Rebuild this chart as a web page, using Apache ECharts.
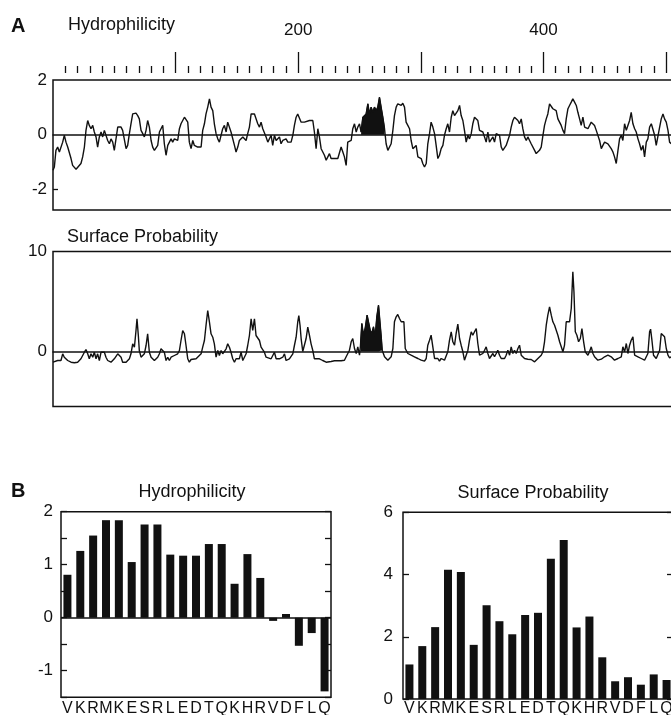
<!DOCTYPE html>
<html>
<head>
<meta charset="utf-8">
<script src="https://cdn.jsdelivr.net/npm/echarts@6/dist/echarts.min.js"></script>
<style>
  html, body { margin: 0; padding: 0; background: #fff; }
  #chart { width: 671px; height: 715px; }
</style>
</head>
<body>
<div id="chart"></div>
<script>
// residue number, value
const hydroTrace = [
  [0,-1.30],[1.1,-1.18],[2.4,-0.57],[3.8,-0.45],[5.2,-0.63],[6.5,-0.69],[7.9,-0.27],[9.2,-0.02],[10.6,-0.27],[12.0,-0.45],
  [13.3,-0.51],[14.7,-0.87],[16.0,-1.12],[18.8,-1.26],[20.1,-1.24],[22.8,-1.05],[24.2,-0.81],[25.6,-0.45],[26.9,0.16],[28.3,0.52],
  [29.6,0.34],[31.0,0.22],[32.4,0.34],[33.7,0.10],[35.1,-0.08],[36.4,-0.45],[37.8,-0.08],[39.2,0.10],[40.5,-0.08],[41.9,0.16],
  [43.2,0.22],[44.6,-0.21],[46.0,-0.33],[47.3,-0.15],[48.7,-0.27],[50.0,-0.57],[51.4,-0.63],[52.8,0.28],[54.1,0.22],[55.5,0.28],
  [56.8,0.16],[59.6,-0.51],[60.9,-0.39],[62.3,0.04],[63.6,0.40],[65.0,0.76],[66.4,0.70],[67.7,0.79],[69.1,0.70],[70.4,0.58],
  [71.8,0.16],[73.2,0.04],[74.5,-0.08],[75.9,0.16],[77.2,0.52],[78.6,0.28],[80.0,-0.21],[81.3,-0.45],[82.7,-0.57],[84.0,-0.51],
  [85.4,-0.39],[86.8,0.10],[88.1,0.22],[89.5,0.34],[90.8,-0.33],[92.2,-0.75],[93.6,-0.39],[94.9,-0.33],[96.3,-0.15],[97.6,-0.27],
  [99.0,-0.15],[100.4,-0.21],[101.7,-0.21],[103.1,0.22],[104.4,0.40],[105.8,0.46],[107.2,0.64],[108.5,0.70],[109.9,0.46],[111.2,-0.27],
  [112.6,-0.51],[114.0,-0.21],[115.3,-0.39],[118.0,-0.45],[120.8,-0.45],[122.1,0.16],[123.5,0.40],[124.8,0.76],[126.2,1.01],[127.6,1.31],
  [128.9,1.01],[130.3,0.88],[131.6,0.40],[133.0,0.04],[134.4,-0.15],[135.7,-0.27],[137.1,-0.33],[138.4,0.22],[139.8,0.34],[141.2,0.10],
  [142.5,0.46],[143.9,0.40],[145.2,0.10],[146.6,0.04],[148.0,-0.39],[149.3,-0.63],[150.7,-0.45],[152.0,-0.21],[153.4,-0.15],[154.8,-0.08],
  [156.1,-0.15],[157.5,-0.21],[158.8,0.04],[160.2,0.28],[161.6,0.76],[162.9,0.82],[164.3,0.76],[165.6,0.76],[167.0,0.40],[168.4,0.28],
  [169.7,0.46],[171.1,0.22],[172.4,0.16],[173.8,-0.08],[175.2,-0.27],[176.5,-0.21],[177.9,-0.02],[179.2,-0.39],[180.6,-0.02],[182.0,-0.21],
  [183.3,-0.27],[184.7,-0.08],[186.0,-0.33],[187.4,-0.21],[188.8,-0.27],[190.1,-0.15],[191.5,-0.27],[192.8,-0.21],[194.2,-0.27],[195.6,-0.02],
  [196.9,0.34],[198.3,0.64],[199.6,0.76],[201.0,0.82],[202.4,0.46],[203.7,0.40],[205.1,0.46],[206.4,0.52],[209.2,0.52],[211.9,0.52],
  [213.2,0.10],[214.6,-0.51],[216.0,0.22],[217.3,-0.08],[218.7,-0.51],[220.0,-0.51],[221.4,-0.75],[222.8,-0.93],[224.1,-0.93],[225.5,-0.69],
  [226.8,-0.87],[229.6,-0.87],[232.3,-0.87],[233.6,-0.81],[235.0,-0.45],[236.4,-0.63],[237.7,-0.81],[239.1,-1.12],[240.4,-0.27],[241.8,-0.21],
  [243.2,-0.21],[244.5,0.22],[245.9,0.40],[247.3,0.10],[248.6,0.28],[250.0,0.40],[251.3,0.10],[252.7,0.64],[254.0,0.64],[255.4,0.76],
  [256.8,1.13],[258.1,0.76],[259.5,1.01],[260.8,0.82],[262.2,1.01],[263.6,0.88],[264.9,1.01],[266.3,1.37],[267.6,1.01],[269.0,0.64],
  [270.4,0.22],[271.7,-0.33],[273.1,-0.57],[274.4,-0.57],[275.8,-0.33],[277.2,0.16],[278.5,0.70],[279.9,1.01],[281.2,1.13],[282.6,1.07],
  [284.0,1.07],[285.3,1.15],[286.7,1.01],[288.0,0.46],[289.4,0.34],[290.8,0.22],[292.1,-0.21],[293.5,-0.51],[294.8,-0.45],[296.2,-0.39],
  [297.6,-0.81],[298.9,-0.87],[300.3,-0.87],[301.6,-1.05],[303.0,-1.18],[304.4,-1.05],[305.7,-0.33],[307.1,0.04],[308.4,0.46],[309.8,0.28],
  [311.2,0.04],[312.5,-0.39],[313.9,-0.87],[315.2,-0.75],[316.6,-0.51],[318.0,-0.39],[319.3,-0.02],[320.7,0.22],[322.0,0.40],[323.4,0.10],
  [324.8,0.64],[326.1,0.88],[327.5,0.70],[328.8,0.70],[330.2,0.88],[331.6,1.07],[332.9,0.70],[334.3,0.52],[335.6,0.16],[337.0,-0.27],
  [338.4,-0.02],[339.7,-0.15],[341.1,0.04],[342.4,0.40],[343.8,0.64],[345.2,0.64],[346.5,0.52],[347.9,0.16],[349.2,0.10],[350.6,0.10],
  [352.0,-0.08],[353.3,-0.27],[354.7,0.10],[356.0,-0.27],[357.4,-0.33],[358.8,-0.08],[360.1,-0.27],[361.5,0.04],[362.8,0.10],[364.2,-0.02],
  [365.6,-0.45],[366.9,-0.57],[368.3,-0.51],[369.6,-0.39],[371.0,-0.33],[372.4,-0.02],[373.7,0.28],[375.1,0.52],[376.4,0.64],[377.8,0.70],
  [379.2,0.52],[380.5,0.40],[381.9,0.58],[383.2,0.22],[384.6,-0.08],[386.0,-0.21],[387.3,-0.08],[388.7,-0.21],[390.0,-0.33],[392.8,-0.57],
  [394.1,-0.69],[395.5,-0.63],[396.8,-0.57],[398.2,-0.45],[399.6,-0.02],[400.9,0.34],[402.3,0.58],[403.6,0.76],[405.0,1.13],[406.4,1.07],
  [407.7,0.95],[409.1,0.95],[410.4,0.88],[411.8,0.58],[413.2,0.52],[414.5,0.34],[415.9,0.16],[417.2,0.04],[418.6,0.58],[420.0,0.95],
  [421.3,1.07],[422.7,1.19],[424.0,1.31],[425.4,1.19],[426.8,1.07],[428.1,0.82],[429.5,0.58],[430.8,0.34],[432.2,0.64],[433.6,0.28],
  [434.9,0.22],[436.3,0.22],[437.6,0.28],[439.0,0.46],[440.4,0.40],[441.7,0.34],[443.1,0.16],[444.4,0.22],[445.8,-0.21],[447.2,-0.51],
  [448.5,-0.39],[449.9,-0.27],[451.2,-0.27],[452.6,-0.33],[454.0,-0.39],[455.3,-0.51],[456.7,-0.63],[458.0,-0.81],[459.4,-1.05],[460.8,-0.57],
  [462.1,-0.15],[463.5,-0.02],[464.8,-0.21],[466.2,0.40],[467.6,0.16],[468.9,0.34],[470.3,0.52],[471.6,0.82],[473.0,0.40],[474.4,0.22],
  [475.7,0.10],[477.1,-0.15],[478.4,-0.33],[479.8,-0.57],[481.2,-0.39],[482.5,-0.81],[483.9,-0.27],[485.2,-0.15],[486.6,0.28],[488.0,0.40],
  [489.3,0.34],[490.7,-0.02],[492.0,-0.39],[493.4,-0.45],[494.8,0.28],[496.1,0.58],[497.5,0.76],[498.8,0.58],[500.2,0.46],[501.6,0.16],
  [502.9,-0.27],[504.3,-0.33]
];

const surfTrace = [
  [0,-1.07],[1.1,-0.90],[3.8,-0.90],[6.5,-0.90],[7.9,-0.23],[9.2,-0.57],[12.0,-0.90],[14.7,-1.07],[17.4,-1.13],[20.1,-1.07],
  [22.8,-0.73],[25.6,-0.07],[26.9,0.20],[28.3,-0.23],[29.6,-0.73],[31.0,-0.23],[32.4,-0.57],[33.7,-0.07],[35.1,-0.73],[36.4,-0.23],
  [37.8,-0.90],[39.2,-0.07],[40.5,-0.23],[41.9,-0.07],[43.2,-0.57],[44.6,-0.90],[47.3,-1.07],[50.0,-0.73],[52.8,-0.23],[54.1,-0.07],
  [55.5,-0.57],[56.8,-1.07],[59.6,-1.07],[62.3,-0.73],[63.6,-0.23],[65.0,0.77],[66.4,0.43],[67.7,2.10],[68.5,3.27],[69.6,1.60],
  [70.4,0.10],[71.8,-0.57],[73.2,-0.73],[74.5,-0.23],[75.9,0.60],[77.2,1.77],[78.6,-0.07],[80.0,-0.57],[82.7,-0.90],[85.4,-0.57],
  [86.8,-0.23],[88.1,0.27],[89.5,0.43],[90.8,-0.07],[92.2,-0.90],[93.6,-0.57],[94.9,-0.90],[96.3,-0.57],[97.6,-0.73],[99.0,-0.40],
  [100.4,-0.57],[101.7,-0.23],[103.1,0.10],[104.4,1.10],[105.8,2.10],[107.2,1.77],[108.5,0.60],[109.9,-0.73],[111.2,-1.07],[112.6,-0.80],
  [114.0,-0.90],[116.7,-0.73],[120.8,-0.23],[122.1,0.43],[123.5,1.10],[124.8,2.60],[126.2,4.10],[127.6,2.93],[128.9,1.77],[130.3,1.43],
  [131.6,0.77],[133.0,-0.57],[134.4,0.10],[135.7,-0.40],[137.1,0.10],[138.4,-0.23],[139.8,-0.07],[141.2,0.27],[142.5,0.77],[143.9,0.43],
  [145.2,-0.07],[146.6,-0.73],[148.0,-1.07],[149.3,-0.73],[150.7,-0.90],[152.0,-0.73],[153.4,-0.07],[154.8,-0.90],[156.1,-0.57],[157.5,-0.23],
  [158.8,0.60],[160.2,1.60],[161.6,3.27],[162.9,2.10],[164.3,3.27],[165.6,1.60],[167.0,1.43],[168.4,1.10],[169.7,0.43],[171.1,0.27],
  [172.4,-0.07],[173.8,-0.57],[175.2,-0.73],[177.9,-0.73],[179.2,-0.57],[180.6,-0.07],[182.0,-0.73],[184.7,-0.73],[187.4,-0.57],[188.8,-0.23],
  [190.1,-0.90],[192.8,-0.73],[195.6,-0.23],[196.9,0.60],[198.3,1.43],[199.6,2.93],[200.5,3.60],[201.5,2.60],[202.4,1.27],[203.7,0],
  [205.1,0],[206.4,1.27],[207.8,2.43],[209.2,1.60],[210.5,0.77],[211.9,0.10],[213.2,-0.73],[214.6,-0.57],[217.3,-0.73],[220.0,-0.90],
  [222.8,-1.07],[226.8,-1.00],[229.6,-0.93],[235.0,-0.93],[237.7,-0.87],[239.1,-0.53],[241.8,0.13],[243.2,0.97],[244.5,1.30],[245.9,0.30],
  [247.3,-0.20],[248.6,0.47],[250.0,-0.37],[250.8,0.63],[251.9,2.80],[253.2,1.63],[254.6,2.30],[256.2,3.63],[257.3,2.97],[258.7,2.13],
  [260.0,1.80],[261.4,2.47],[262.8,1.47],[264.1,3.47],[265.5,4.63],[266.9,2.63],[267.7,1.47],[268.5,0.13],[270.4,-0.53],[273.1,-0.87],
  [275.8,-0.53],[277.2,0.30],[278.5,2.97],[279.9,3.47],[281.2,3.70],[282.6,3.30],[284.0,2.97],[286.2,2.97],[287.3,0.30],[289.4,-0.20],
  [292.1,-0.37],[294.8,-0.53],[297.6,-0.70],[300.3,-0.87],[303.0,-0.97],[304.4,-0.70],[305.7,0.63],[307.1,1.13],[308.4,1.63],[309.8,0.47],
  [311.2,-0.70],[312.5,-0.87],[313.9,-0.70],[315.2,-0.97],[316.6,-0.70],[319.3,-0.87],[322.0,-0.03],[323.4,1.13],[324.8,1.97],[326.1,0.97],
  [327.5,0.63],[328.8,1.80],[330.2,2.73],[331.6,1.30],[332.9,0.63],[334.3,-0.03],[335.6,-0.87],[337.0,-0.70],[338.4,0.13],[339.7,1.13],
  [341.1,1.97],[342.4,1.63],[343.8,1.97],[345.2,2.30],[346.5,0.80],[347.9,-0.37],[349.2,-0.20],[350.6,-0.20],[352.0,0.13],[353.3,0.47],
  [354.7,-0.20],[356.0,-0.70],[357.4,-0.53],[358.8,-0.20],[360.1,-0.53],[361.5,-0.20],[362.8,0.13],[364.2,-0.37],[365.6,-0.70],[366.9,-0.87],
  [368.3,-0.70],[369.6,-0.37],[371.0,0.13],[372.4,-0.37],[373.7,0.47],[375.1,-0.20],[376.4,0.13],[377.8,-0.20],[379.2,0.30],[380.5,0.63],
  [381.9,-0.37],[383.2,-0.53],[384.6,-0.70],[387.3,-0.77],[390.0,-0.80],[391.4,-0.97],[392.8,-1.03],[395.5,-0.70],[398.2,-0.37],[399.6,-0.03],
  [400.9,0.97],[402.3,2.63],[403.6,3.63],[405.0,4.47],[406.4,3.63],[407.7,2.97],[409.1,2.63],[410.4,2.80],[411.8,1.63],[413.2,0.97],
  [414.5,1.13],[415.9,-0.03],[417.2,0.63],[418.6,2.97],[420.0,3.13],[421.3,2.97],[422.7,4.30],[424.0,7.97],[424.9,5.97],[426.0,1.97],
  [427.3,1.63],[428.7,0.97],[430.1,1.30],[431.4,2.30],[432.8,0.97],[434.1,-0.03],[436.3,-0.37],[437.6,-0.03],[439.0,0.47],[440.4,-0.20],
  [441.7,-0.53],[444.4,-0.87],[447.2,-0.77],[449.9,-0.53],[452.6,-0.37],[455.3,-0.53],[458.0,-0.87],[460.8,-0.70],[463.5,-0.53],[464.8,0.47],
  [466.2,-0.03],[467.6,0.80],[468.9,-0.20],[470.3,0.63],[471.6,1.13],[473.0,1.47],[474.4,-0.37],[477.1,-0.53],[479.8,-0.70],[482.5,-0.87],
  [485.2,-0.20],[486.6,1.97],[487.4,2.23],[488.5,1.13],[489.8,-0.37],[492.0,-0.70],[494.8,0.13],[496.1,1.80],[497.5,1.97],[498.8,1.47],
  [500.2,0.30],[501.6,-0.37],[502.9,-0.63],[504.3,-0.53]
];

// peptide shaded black in panel A
const peptideRange = [250.5, 271];

// panel B: the peptide residue by residue
const residues = ['V','K','R','M','K','E','S','R','L','E','D','T','Q','K','H','R','V','D','F','L','Q'];
const hydroBars = [0.81, 1.26, 1.55, 1.84, 1.84, 1.05, 1.76, 1.76, 1.19, 1.17, 1.17, 1.39, 1.39, 0.64, 1.20, 0.75, -0.06, 0.07, -0.53, -0.29, -1.39];
const surfBars = [1.11, 1.70, 2.31, 4.15, 4.08, 1.74, 3.01, 2.50, 2.08, 2.70, 2.77, 4.51, 5.11, 2.30, 2.65, 1.34, 0.57, 0.70, 0.46, 0.79, 0.61];

const rulerMajor = [100, 200, 300, 400, 500];
const rulerLabels = [200, 400];
const rulerMinor = [];
for (let r = 10; r <= 510; r += 10) if (r % 100) rulerMinor.push(r);

const ink = '#111';
const font = '"Liberation Sans", Arial, Helvetica, sans-serif';
const resMax = 522;

const inPeptide = p => p[0] >= peptideRange[0] && p[0] <= peptideRange[1] && p[1] >= 0;

const frame = { show: true, borderColor: ink, borderWidth: 1.5, backgroundColor: 'transparent' };

function box(left, top, width, height, framed) {
  return Object.assign({ left: left, top: top, width: width, height: height, outerBoundsMode: 'none', containLabel: false },
    framed ? frame : {});
}

function traceAxis(grid) {
  return {
    gridIndex: grid, type: 'value', min: 0, max: resMax,
    axisLine: { show: true, onZero: true, lineStyle: { color: ink, width: 1.5 } },
    axisTick: { show: false }, axisLabel: { show: false }, splitLine: { show: false }
  };
}

function barAxis(grid, margin) {
  return {
    gridIndex: grid, type: 'category', data: residues,
    axisLine: { show: false }, axisTick: { show: false }, splitLine: { show: false },
    axisLabel: { interval: 0, margin: margin, fontSize: 16, color: ink, fontFamily: font }
  };
}

function sideAxis(grid, pos, min, max, interval, labels, margin) {
  return {
    gridIndex: grid, type: 'value', position: pos, min: min, max: max, interval: interval,
    axisLine: { show: false }, splitLine: { show: false },
    axisTick: { show: true, inside: true, length: 6, lineStyle: { color: ink, width: 1.3 } },
    axisLabel: labels
      ? { customValues: labels, margin: margin, fontSize: 17, color: ink, fontFamily: font }
      : { show: false }
  };
}

function traceSeries(axis, data, fill) {
  return {
    type: 'line', xAxisIndex: axis, yAxisIndex: axis, data: data,
    showSymbol: false, symbol: 'none', silent: true,
    lineStyle: { color: ink, width: fill ? 1 : 1.4 },
    areaStyle: fill ? { color: ink, opacity: 1, origin: 'auto' } : undefined,
    z: fill ? 2 : 3
  };
}

const zeroLine = {
  silent: true, symbol: 'none', label: { show: false },
  lineStyle: { color: ink, width: 1.5, type: 'solid' },
  data: [{ yAxis: 0 }]
};

const option = {
  animation: false,
  textStyle: { fontFamily: font, color: ink },
  grid: [
    box(53, 63, 640, 10, false),
    box(53, 63, 640, 10, false),
    box(53, 80, 640, 130, true),
    box(53, 251.5, 640, 155, true),
    box(61, 511.7, 270, 185.5, true),
    box(403, 512.3, 270, 186.7, true)
  ],
  xAxis: [
    {
      gridIndex: 0, type: 'value', position: 'top', min: 0, max: resMax,
      axisLine: { show: false }, splitLine: { show: false },
      axisTick: { customValues: rulerMajor, length: 21, lineStyle: { color: ink, width: 1.3 } },
      axisLabel: { customValues: rulerLabels, margin: 24, fontSize: 17, color: ink, fontFamily: font }
    },
    {
      gridIndex: 1, type: 'value', position: 'top', min: 0, max: resMax,
      axisLine: { show: false }, splitLine: { show: false },
      axisTick: { customValues: rulerMinor, length: 7, lineStyle: { color: ink, width: 1.3 } },
      axisLabel: { show: false }
    },
    traceAxis(2),
    traceAxis(3),
    barAxis(4, 3),
    barAxis(5, 2)
  ],
  yAxis: [
    { gridIndex: 0, type: 'value', show: false },
    { gridIndex: 1, type: 'value', show: false },
    {
      gridIndex: 2, type: 'value', min: -2.75, max: 2,
      axisLine: { show: false }, splitLine: { show: false },
      axisTick: { customValues: [-2], inside: true, length: 5, lineStyle: { color: ink, width: 1.3 } },
      axisLabel: { customValues: [-2, 0, 2], margin: 6, fontSize: 17, color: ink, fontFamily: font, padding: [6, 0, 0, 0] }
    },
    {
      gridIndex: 3, type: 'value', min: -5.5, max: 10,
      axisLine: { show: false }, splitLine: { show: false }, axisTick: { show: false },
      axisLabel: { customValues: [0, 10], margin: 6, fontSize: 17, color: ink, fontFamily: font }
    },
    sideAxis(4, 'left', -1.5, 2, 0.5, [-1, 0, 1, 2], 8),
    sideAxis(4, 'right', -1.5, 2, 0.5, null),
    sideAxis(5, 'left', 0, 6, 2, [0, 2, 4, 6], 10),
    sideAxis(5, 'right', 0, 6, 2, null)
  ],
  series: [
    traceSeries(2, hydroTrace, false),
    traceSeries(2, hydroTrace.filter(inPeptide), true),
    traceSeries(3, surfTrace, false),
    traceSeries(3, surfTrace.filter(inPeptide), true),
    {
      type: 'bar', xAxisIndex: 4, yAxisIndex: 4, data: hydroBars, barWidth: 8,
      itemStyle: { color: ink }, silent: true, markLine: zeroLine
    },
    {
      type: 'bar', xAxisIndex: 5, yAxisIndex: 6, data: surfBars, barWidth: 8,
      itemStyle: { color: ink }, silent: true
    }
  ],
  graphic: [
    { type: 'text', x: 11, y: 26, style: { text: 'A', fontSize: 20, fontWeight: 'bold', fontFamily: font, fill: ink, verticalAlign: 'middle' } },
    { type: 'text', x: 68, y: 25, style: { text: 'Hydrophilicity', fontSize: 18, fontFamily: font, fill: ink, verticalAlign: 'middle' } },
    { type: 'text', x: 67, y: 237, style: { text: 'Surface Probability', fontSize: 18, fontFamily: font, fill: ink, verticalAlign: 'middle' } },
    { type: 'text', x: 11, y: 491, style: { text: 'B', fontSize: 20, fontWeight: 'bold', fontFamily: font, fill: ink, verticalAlign: 'middle' } },
    { type: 'text', x: 192, y: 492, style: { text: 'Hydrophilicity', fontSize: 18, fontFamily: font, fill: ink, align: 'center', verticalAlign: 'middle' } },
    { type: 'text', x: 533, y: 493, style: { text: 'Surface Probability', fontSize: 18, fontFamily: font, fill: ink, align: 'center', verticalAlign: 'middle' } }
  ]
};

const chart = echarts.init(document.getElementById('chart'), null, { renderer: 'canvas' });
chart.setOption(option);
</script>
</body>
</html>
